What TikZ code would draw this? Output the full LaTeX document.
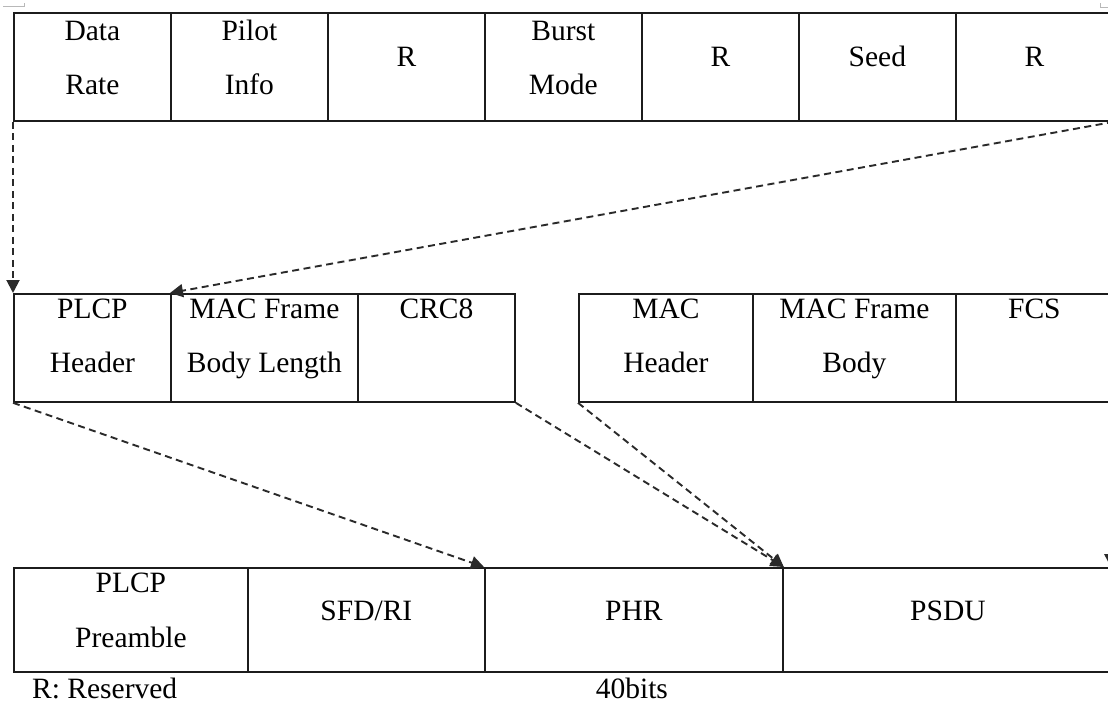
\documentclass[tikz,border=0pt]{standalone}
\usepackage{fontspec}
\setmainfont{Liberation Serif}
\usetikzlibrary{arrows.meta,calc}
\definecolor{ink}{HTML}{1C1C1C}
\definecolor{arrowink}{HTML}{2A2A2A}
\definecolor{guide}{HTML}{B8B8B8}
\begin{document}
\begin{tikzpicture}[x=1pt,y=-1pt,
  cell/.style={rectangle, draw=ink, line width=1.8pt, inner sep=0pt, anchor=north west},
  lbl/.style={anchor=base, inner sep=0pt, font=\fontsize{29.5}{34}\selectfont, text=black},
  link/.style={draw=arrowink, line width=1.9pt, dash pattern=on 7pt off 4.5pt,
    -{Triangle[length=13pt,width=13pt]}},
  cropmark/.style={draw=guide, line width=1pt}]
\useasboundingbox (0,0) rectangle (1108,704);
\clip (0,0) rectangle (1108,704);

% text-area corner marks
\draw[cropmark] (3,6.5) -- (24,6.5) -- (24,3);
\draw[cropmark] (1100,3) -- (1100,7.5) -- (1108,7.5);

% ---- first row: PLCP header fields ----
\node[cell, minimum width=157pt, minimum height=108pt] (dr) at (13,12) {};
\node[cell, minimum width=157pt, minimum height=108pt] (pi) at (170,12) {};
\node[cell, minimum width=157pt, minimum height=108pt] (ra) at (327,12) {};
\node[cell, minimum width=157pt, minimum height=108pt] (bm) at (484,12) {};
\node[cell, minimum width=157pt, minimum height=108pt] (rb) at (641,12) {};
\node[cell, minimum width=157pt, minimum height=108pt] (sd) at (798,12) {};
\node[cell, minimum width=157pt, minimum height=108pt] (rc) at (955,12) {};

\node[lbl] (drA) at ($(dr.north)+(0,28)$) {Data};
\node[lbl] (drB) at ($(dr.north)+(0,82)$) {Rate};
\node[lbl] (piA) at ($(pi.north)+(0,28)$) {Pilot};
\node[lbl] (piB) at ($(pi.north)+(0,82)$) {Info};
\node[lbl] (raA) at ($(ra.north)+(0,54)$) {R};
\node[lbl] (bmA) at ($(bm.north)+(0,28)$) {Burst};
\node[lbl] (bmB) at ($(bm.north)+(0,82)$) {Mode};
\node[lbl] (rbA) at ($(rb.north)+(0,54)$) {R};
\node[lbl] (sdA) at ($(sd.north)+(0,54)$) {Seed};
\node[lbl] (rcA) at ($(rc.north)+(0,54)$) {R};

% ---- second row: PLCP header and MAC frame ----
\node[cell, minimum width=157pt, minimum height=108pt] (ph) at (13,293) {};
\node[cell, minimum width=187pt, minimum height=108pt] (mfl) at (170,293) {};
\node[cell, minimum width=157pt, minimum height=108pt] (crc) at (357,293) {};
\node[cell, minimum width=174pt, minimum height=108pt] (mh) at (578,293) {};
\node[cell, minimum width=203pt, minimum height=108pt] (mfb) at (752,293) {};
\node[cell, minimum width=157pt, minimum height=108pt] (fcs) at (955,293) {};

\node[lbl] (phA) at ($(ph.north)+(0,25)$) {PLCP};
\node[lbl] (phB) at ($(ph.north)+(0,79)$) {Header};
\node[lbl] (mflA) at ($(mfl.north)+(0,25)$) {MAC Frame};
\node[lbl] (mflB) at ($(mfl.north)+(0,79)$) {Body Length};
\node[lbl] (crcA) at ($(crc.north)+(0,25)$) {CRC8};
\node[lbl] (mhA) at ($(mh.north)+(0,25)$) {MAC};
\node[lbl] (mhB) at ($(mh.north)+(0,79)$) {Header};
\node[lbl] (mfbA) at ($(mfb.north)+(0,25)$) {MAC Frame};
\node[lbl] (mfbB) at ($(mfb.north)+(0,79)$) {Body};
\node[lbl] (fcsA) at ($(fcs.north)+(0,25)$) {FCS};

% ---- third row: PPDU ----
\node[cell, minimum width=234pt, minimum height=104pt] (pre) at (13,567) {};
\node[cell, minimum width=237pt, minimum height=104pt] (sfd) at (247,567) {};
\node[cell, minimum width=298pt, minimum height=104pt] (phr) at (484,567) {};
\node[cell, minimum width=330pt, minimum height=104pt] (psdu) at (782,567) {};

\node[lbl] (preA) at ($(pre.north)+(0,25)$) {PLCP};
\node[lbl] (preB) at ($(pre.north)+(0,80)$) {Preamble};
\node[lbl] (sfdA) at ($(sfd.north)+(0,53)$) {SFD/RI};
\node[lbl] (phrA) at ($(phr.north)+(0,53)$) {PHR};
\node[lbl] (psduA) at ($(psdu.north)+(0,53)$) {PSDU};

\node[lbl, anchor=base west] (note) at ($(pre.south west)+(19,26)$) {R: Reserved};
\node[lbl] (len) at ($(phr.south)+(-2,26)$) {40bits};

% ---- mapping arrows ----
\draw[link] (dr.south west) -- (ph.north west);
\draw[link] (rc.south east) -- (mfl.north west);
\draw[link] (ph.south west) -- (phr.north west);
\draw[link] (crc.south east) -- (phr.north east);
\draw[link] (mh.south west) -- (phr.north east);
\draw[link] ([xshift=-3pt]fcs.south east) -- ([xshift=-3pt]psdu.north east);
\end{tikzpicture}
\end{document}
